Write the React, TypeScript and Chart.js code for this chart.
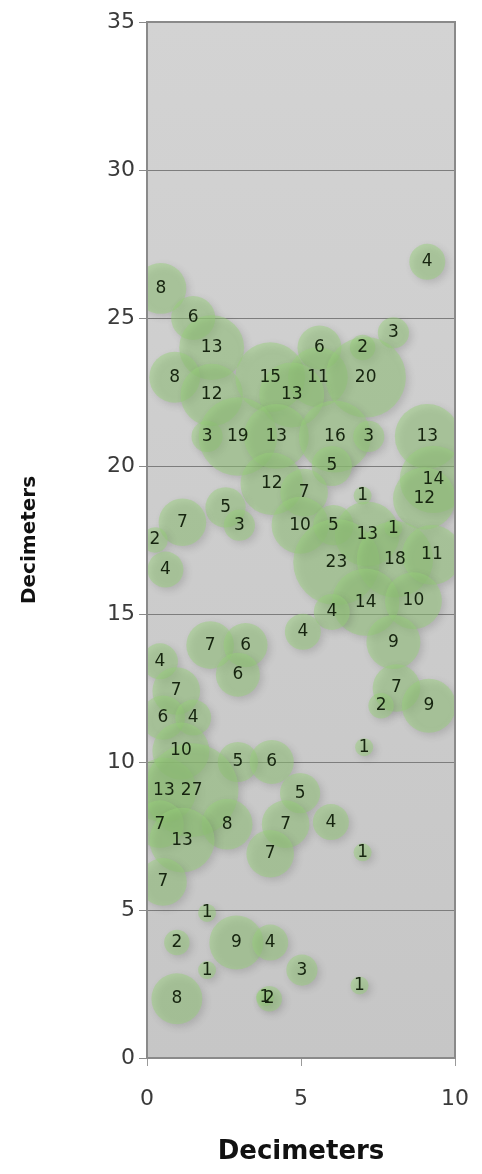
import React, { useEffect, useRef } from "react";
import { Chart, registerables } from "chart.js";

Chart.register(...registerables);

// Bubble data: x (dm), y (dm), size label
const xs = [
  9.1, 0.45, 1.5, 2.1, 5.6, 7.0, 8.0, 0.9, 2.1, 4.0, 5.55, 7.1, 4.7, 1.95, 2.95, 4.2, 6.1, 7.2, 9.1, 6.0,
  9.3, 4.05, 5.1, 7.0, 9.0, 2.55, 3.0, 1.15, 0.26, 4.97, 6.05, 7.15, 8.0, 6.15, 8.05, 9.25, 0.6, 7.1, 8.65, 6.0,
  5.06, 8.0, 2.05, 3.2, 0.42, 2.95, 0.95, 8.1, 7.6, 9.15, 0.52, 1.5, 1.1, 7.05, 2.95, 4.05, 0.55, 1.45, 4.97, 0.42,
  2.6, 4.5, 5.97, 1.14, 4.0, 7.0, 0.52, 1.95, 0.97, 2.9, 4.0, 1.95, 5.03, 6.9, 0.97, 3.83, 3.97,
];
const ys = [
  26.9, 26.0, 25.0, 24.0, 24.0, 24.0, 24.5, 23.0, 22.4, 23.0, 23.0, 23.0, 22.4, 21.0, 21.0, 21.0, 21.0, 21.0, 21.0, 20.0,
  19.55, 19.4, 19.1, 19.0, 18.9, 18.6, 18.0, 18.1, 17.5, 18.0, 18.0, 17.7, 17.9, 16.75, 16.85, 17.0, 16.5, 15.4, 15.45, 15.07,
  14.4, 14.05, 13.95, 13.95, 13.4, 12.95, 12.4, 12.5, 11.9, 11.9, 11.5, 11.5, 10.37, 10.5, 10.0, 10.0, 9.05, 9.05, 8.95, 7.9,
  7.9, 7.9, 7.97, 7.36, 6.9, 6.95, 5.95, 4.9, 3.9, 3.9, 3.9, 2.97, 2.97, 2.45, 2.0, 2.05, 2.0,
];
const sizes = [
  4, 8, 6, 13, 6, 2, 3, 8, 12, 15, 11, 20, 13, 3, 19, 13, 16, 3, 13, 5,
  14, 12, 7, 1, 12, 5, 3, 7, 2, 10, 5, 13, 1, 23, 18, 11, 4, 14, 10, 4,
  4, 9, 7, 6, 4, 6, 7, 7, 2, 9, 6, 4, 10, 1, 5, 6, 13, 27, 5, 7,
  8, 7, 4, 13, 7, 1, 7, 1, 2, 9, 4, 1, 3, 1, 8, 1, 2,
];
const xTicks = [0, 5, 10];
const yTicks = [0, 5, 10, 15, 20, 25, 30, 35];
const axisTitle = "Decimeters";

const RADIUS_K = 9;

const bgPlugin = {
  id: "plotBg",
  beforeDatasetsDraw(chart: any) {
    const { ctx, chartArea: a } = chart;
    ctx.save();
    const g = ctx.createLinearGradient(0, a.top, 0, a.bottom);
    g.addColorStop(0, "#d3d3d3");
    g.addColorStop(1, "#c6c6c6");
    ctx.fillStyle = g;
    ctx.fillRect(a.left, a.top, a.right - a.left, a.bottom - a.top);
    const y = chart.scales.y;
    ctx.strokeStyle = "#7d7d7d";
    ctx.lineWidth = 1;
    yTicks.forEach((t) => {
      const py = Math.round(y.getPixelForValue(t)) + 0.5;
      ctx.beginPath();
      ctx.moveTo(a.left, py);
      ctx.lineTo(a.right, py);
      ctx.stroke();
    });
    ctx.restore();
    ctx.save();
    ctx.shadowColor = "rgba(70,70,70,0.4)";
    ctx.shadowBlur = 7;
    ctx.shadowOffsetX = 3;
    ctx.shadowOffsetY = 3;
  },
  afterDatasetsDraw(chart: any) {
    const { ctx, chartArea: a } = chart;
    ctx.restore();
    ctx.save();
    ctx.beginPath();
    ctx.rect(a.left, a.top, a.right - a.left, a.bottom - a.top);
    ctx.clip();
    ctx.font = "17px 'DejaVu Sans'";
    ctx.fillStyle = "#16240f";
    ctx.textAlign = "center";
    ctx.textBaseline = "middle";
    const meta = chart.getDatasetMeta(0);
    meta.data.forEach((el: any, i: number) => {
      ctx.fillText(String(sizes[i]), el.x, el.y);
    });
    ctx.restore();
    ctx.save();
    ctx.strokeStyle = "#8a8a8a";
    ctx.lineWidth = 2;
    ctx.strokeRect(a.left, a.top, a.right - a.left, a.bottom - a.top);
    ctx.restore();
  },
};

export default function App() {
  const ref = useRef<HTMLCanvasElement | null>(null);
  useEffect(() => {
    if (!ref.current) return;
    const data = xs.map((x, i) => ({ x, y: ys[i], r: RADIUS_K * Math.sqrt(sizes[i]) }));
    const chart = new Chart(ref.current, {
      type: "bubble",
      data: {
        datasets: [
          {
            label: "Size",
            data,
            backgroundColor: "rgba(150,208,122,0.47)",
            borderWidth: 0,
            borderColor: "rgba(0,0,0,0)",
          },
        ],
      },
      plugins: [bgPlugin],
      options: {
        animation: false,
        responsive: true,
        maintainAspectRatio: false,
        layout: { autoPadding: false, padding: { top: 22, right: 27, left: 0, bottom: 0 } },
        plugins: { legend: { display: false }, tooltip: { enabled: false } },
        scales: {
          x: {
            type: "linear",
            min: 0,
            max: 10,
            afterFit: (s: any) => {
              s.height = 116;
              s.paddingLeft = 0;
              s.paddingRight = 0;
            },
            afterBuildTicks: (s: any) => {
              s.ticks = xTicks.map((v) => ({ value: v }));
            },
            ticks: {
              color: "#3a3a3a",
              font: { family: "'DejaVu Sans'", size: 22 },
              padding: 20,
              maxRotation: 0,
            },
            grid: { drawOnChartArea: false, drawTicks: true, tickLength: 8, color: "#9a9a9a" },
            border: { display: true, color: "#8a8a8a", width: 2 },
            title: {
              display: true,
              text: axisTitle,
              color: "#111",
              font: { family: "'DejaVu Sans'", size: 26, weight: "bold" },
              padding: { top: 0, bottom: 6 },
            },
          },
          y: {
            type: "linear",
            min: 0,
            max: 35,
            afterFit: (s: any) => {
              s.width = 147;
            },
            afterBuildTicks: (s: any) => {
              s.ticks = yTicks.map((v) => ({ value: v }));
            },
            ticks: {
              color: "#3a3a3a",
              font: { family: "'DejaVu Sans'", size: 22 },
              padding: 4,
            },
            grid: { drawOnChartArea: false, drawTicks: true, tickLength: 8, color: "#8a8a8a" },
            border: { display: true, color: "#8a8a8a", width: 2 },
            title: {
              display: true,
              text: axisTitle,
              color: "#111",
              font: { family: "'DejaVu Sans'", size: 20, weight: "bold" },
              padding: { top: 18, bottom: 0 },
            },
          },
        },
      },
    });
    return () => chart.destroy();
  }, []);
  return (
    <div style={{ position: "fixed", left: 0, top: 0, width: 482, height: 1174, background: "#fff" }}>
      <canvas ref={ref} />
    </div>
  );
}
